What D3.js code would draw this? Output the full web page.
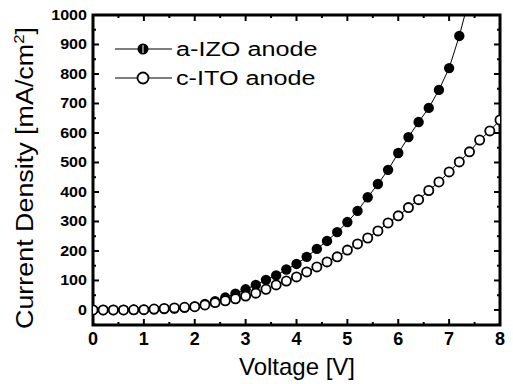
<!DOCTYPE html>
<html>
<head>
<meta charset="utf-8">
<script src="https://cdn.jsdelivr.net/npm/d3@7"></script>
<style>
  body { margin: 0; background: #fff; }
  svg { font-family: "Liberation Sans", Arial, sans-serif; }
</style>
</head>
<body>
<svg width="513" height="384"></svg>
<script>
// Voltage steps (V)
const voltsIZO = [0,0.2,0.4,0.6,0.8,1,1.2,1.4,1.6,1.8,2,2.2,2.4,2.6,2.8,3,3.2,3.4,3.6,3.8,4,4.2,4.4,4.6,4.8,5,5.2,5.4,5.6,5.8,6,6.2,6.4,6.6,6.8,7,7.2,7.4];
const izo = [0,0,0,0,0.5,1,2,3,5,8,12,20,30,42,55,70,85,102,117,137,156,180,207,234,264,298,336,382,427,475,532,586,637,685,746,820,929,1060];
const voltsITO = [0,0.2,0.4,0.6,0.8,1,1.2,1.4,1.6,1.8,2,2.2,2.4,2.6,2.8,3,3.2,3.4,3.6,3.8,4,4.2,4.4,4.6,4.8,5,5.2,5.4,5.6,5.8,6,6.2,6.4,6.6,6.8,7,7.2,7.4,7.6,7.8,8];
const ito = [0,0,0,0,0.5,1,3,5,7,9,11,17,25,31,38,47,57,70,85,98,112,129,146,163,180,203,224,244,268,295,319,347,374,405,434,468,502,536,576,607,644];
const xTicks = [0,1,2,3,4,5,6,7,8];
const yTicks = [0,100,200,300,400,500,600,700,800,900,1000];
const legendNames = ["a-IZO anode", "c-ITO anode"];

const svg = d3.select("svg");
const L = 93, R = 500, T = 15, B = 325;

const x = d3.scaleLinear().domain([0, 8]).range([L, R]);
const y = d3.scaleLinear().domain([-51, 1000]).range([B, T]);

svg.append("clipPath").attr("id", "clip")
  .append("rect").attr("x", L).attr("y", T).attr("width", R - L).attr("height", B - T);

// ticks point inward on all four sides
const g = svg.append("g").attr("stroke", "#000").attr("stroke-width", 2);
function xTickLines(vals, len) {
  vals.forEach(v => {
    g.append("line").attr("x1", x(v)).attr("x2", x(v)).attr("y1", B).attr("y2", B - len);
    g.append("line").attr("x1", x(v)).attr("x2", x(v)).attr("y1", T).attr("y2", T + len);
  });
}
function yTickLines(vals, len) {
  vals.forEach(v => {
    g.append("line").attr("y1", y(v)).attr("y2", y(v)).attr("x1", L).attr("x2", L + len);
    g.append("line").attr("y1", y(v)).attr("y2", y(v)).attr("x1", R).attr("x2", R - len);
  });
}
xTickLines(d3.range(0, 8.01, 1), 6);
xTickLines(d3.range(0.5, 8, 1), 3);
yTickLines(yTicks, 6);
yTickLines(d3.range(-50, 1000, 100), 3);

// frame
svg.append("rect").attr("x", L).attr("y", T).attr("width", R - L).attr("height", B - T)
  .attr("fill", "none").attr("stroke", "#000").attr("stroke-width", 3);

// tick labels
svg.append("g").selectAll("text").data(xTicks).join("text")
  .attr("x", d => x(d)).attr("y", B + 20)
  .attr("text-anchor", "middle").attr("font-size", 18).attr("font-weight", "bold")
  .text(d => d);
svg.append("g").selectAll("text").data(yTicks).join("text")
  .attr("transform", d => `translate(${L - 6},${y(d) + 5}) scale(1.15,1)`)
  .attr("text-anchor", "end").attr("font-size", 14).attr("font-weight", "bold")
  .text(d => d);

// axis titles
svg.append("text").attr("x", 297).attr("y", 375)
  .attr("text-anchor", "middle").attr("font-size", 24).text("Voltage [V]");
const yt = svg.append("text").attr("transform", `translate(33,178) rotate(-90) scale(1.12,1)`)
  .attr("text-anchor", "middle").attr("font-size", 24);
yt.append("tspan").text("Current Density [mA/cm");
yt.append("tspan").attr("dy", -9).attr("font-size", 15).text("2");
yt.append("tspan").attr("dy", 9).text("]");

// data
const line = d3.line().x(d => x(d[0])).y(d => y(d[1]));
const plot = svg.append("g").attr("clip-path", "url(#clip)");
const izoPts = voltsIZO.map((v, i) => [v, izo[i]]);
const itoPts = voltsITO.map((v, i) => [v, ito[i]]);

plot.append("path").datum(itoPts).attr("d", line)
  .attr("fill", "none").attr("stroke", "#000").attr("stroke-width", 1);
plot.append("path").datum(izoPts).attr("d", line)
  .attr("fill", "none").attr("stroke", "#000").attr("stroke-width", 1);

plot.append("g").selectAll("circle").data(izoPts).join("circle")
  .attr("cx", d => x(d[0])).attr("cy", d => y(d[1])).attr("r", 5.2)
  .attr("fill", "#000");
plot.append("g").selectAll("circle").data(itoPts).join("circle")
  .attr("cx", d => x(d[0])).attr("cy", d => y(d[1])).attr("r", 4.6)
  .attr("fill", "#fff").attr("stroke", "#000").attr("stroke-width", 1.8);

// legend
const leg = svg.append("g");
leg.append("line").attr("x1", 115).attr("x2", 172).attr("y1", 49).attr("y2", 49)
  .attr("stroke", "#000").attr("stroke-width", 1.2);
leg.append("circle").attr("cx", 143).attr("cy", 49).attr("r", 5.5).attr("fill", "#000");
leg.append("line").attr("x1", 143).attr("x2", 143).attr("y1", 45).attr("y2", 53)
  .attr("stroke", "#fff").attr("stroke-width", 1);
leg.append("text").attr("transform", "translate(176,56) scale(1.2,1)")
  .attr("font-size", 21).text(legendNames[0]);

leg.append("line").attr("x1", 115).attr("x2", 172).attr("y1", 78).attr("y2", 78)
  .attr("stroke", "#000").attr("stroke-width", 1.2);
leg.append("circle").attr("cx", 143).attr("cy", 78).attr("r", 5.5)
  .attr("fill", "#fff").attr("stroke", "#000").attr("stroke-width", 1.8);
leg.append("text").attr("transform", "translate(176,85) scale(1.2,1)")
  .attr("font-size", 21).text(legendNames[1]);
</script>
</body>
</html>
